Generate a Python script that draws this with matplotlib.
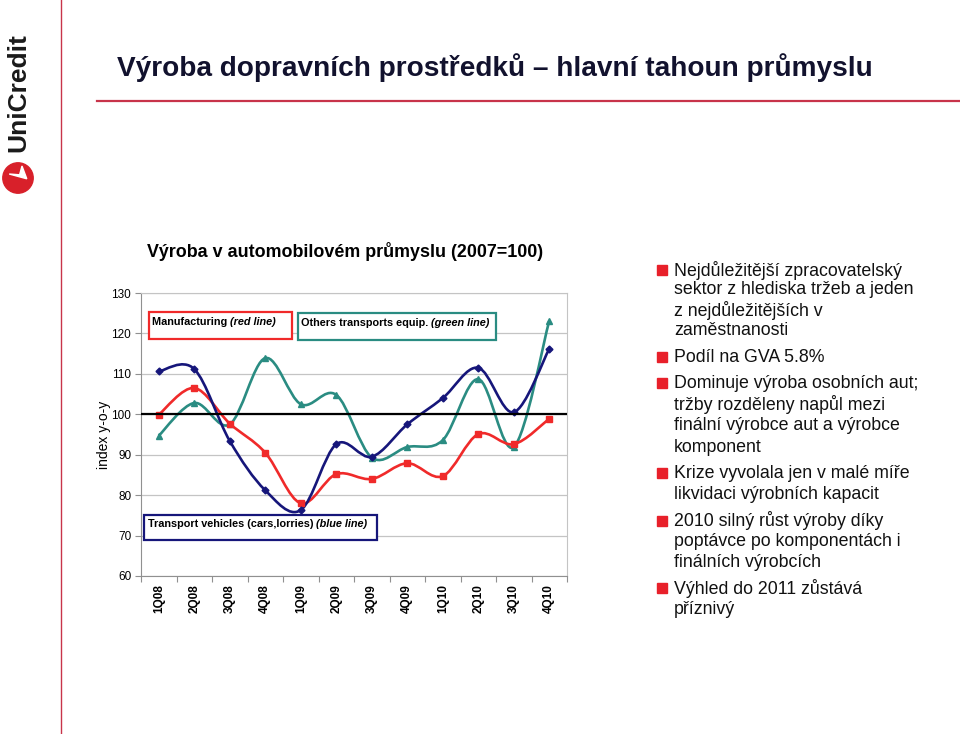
import matplotlib
matplotlib.use("Agg")
import matplotlib.pyplot as plt
from matplotlib.path import Path
from matplotlib.patches import PathPatch, Rectangle, Circle, Polygon
import numpy as np

plt.rcParams['font.family'] = ['Liberation Sans', 'DejaVu Sans']

# data (index, 2007=100)
quarters = ["1Q08", "2Q08", "3Q08", "4Q08", "1Q09", "2Q09",
            "3Q09", "4Q09", "1Q10", "2Q10", "3Q10", "4Q10"]
manufacturing = [99.9, 106.5, 97.7, 90.5, 78.0, 85.2, 84.0, 87.9, 84.7, 95.1, 92.6, 98.9]
transport_vehicles = [110.6, 111.2, 93.4, 81.2, 76.3, 92.6, 89.5, 97.5, 104.0, 111.5, 100.5, 116.2]
other_transport = [94.7, 102.8, 97.5, 113.9, 102.5, 104.8, 89.3, 91.9, 93.6, 108.7, 91.9, 123.1]

bullets = [
    ["Nejdůležitější zpracovatelský", "sektor z hlediska tržeb a jeden",
     "z nejdůležitějších v", "zaměstnanosti"],
    ["Podíl na GVA 5.8%"],
    ["Dominuje výroba osobních aut;", "tržby rozděleny napůl mezi",
     "finální výrobce aut a výrobce", "komponent"],
    ["Krize vyvolala jen v malé míře", "likvidaci výrobních kapacit"],
    ["2010 silný růst výroby díky", "poptávce po komponentách i",
     "finálních výrobcích"],
    ["Výhled do 2011 zůstává", "příznivý"],
]

RED = '#f02a2a'
NAVY = '#16167a'
TEAL = '#2a8c82'


def smooth_path(xs, ys):
    # excel-like smoothed line: bezier segments through the data points
    pts = np.column_stack([xs, ys]).astype(float)
    n = len(pts)
    verts = [pts[0]]
    codes = [Path.MOVETO]
    for i in range(n - 1):
        p0 = pts[max(i - 1, 0)]
        p1 = pts[i]
        p2 = pts[i + 1]
        p3 = pts[min(i + 2, n - 1)]
        verts += [p1 + (p2 - p0) / 6.0, p2 - (p3 - p1) / 6.0, p2]
        codes += [Path.CURVE4] * 3
    return Path(verts, codes)


fig = plt.figure(figsize=(9.6, 7.34), dpi=100)
W, H = 960.0, 734.0

# frame lines of the slide
fig.add_artist(plt.Line2D([60.5 / W, 60.5 / W], [0, 1], color='#c8344a', lw=1.0))
fig.add_artist(plt.Line2D([97 / W, 1.0], [1 - 101 / H, 1 - 101 / H], color='#c8344a', lw=1.6))

fig.text(117 / W, 1 - 68 / H, "Výroba dopravních prostředků – hlavní tahoun průmyslu",
         fontsize=20.2, fontweight='bold', color='#12122e', va='center', ha='left')

# logo
fig.text(18 / W, 1 - 93 / H, "UniCredit", rotation=90, fontsize=19, fontweight='bold',
         color='#1a1a1a', ha='center', va='center')
lax = fig.add_axes([2 / W, 1 - 194 / H, 32 / W, 32 / H])
lax.set_xlim(-1, 1)
lax.set_ylim(-1, 1)
lax.set_aspect('equal')
lax.axis('off')
lax.add_patch(Circle((0, 0), 0.95, color='#d8202a'))
lax.add_patch(Polygon([(-0.55, 0.25), (0.55, -0.05), (0.25, 0.75), (0.1, 0.2)],
                      closed=True, color='white'))

# chart
ax = fig.add_axes([141 / W, 1 - 576 / H, 426 / W, 283 / H])
x = np.arange(len(quarters))

for vals, col, mk, ms in [(other_transport, TEAL, '^', 4.5),
                          (manufacturing, RED, 's', 4),
                          (transport_vehicles, NAVY, 'D', 3.5)]:
    ax.add_patch(PathPatch(smooth_path(x, vals), facecolor='none', edgecolor=col, lw=1.9, zorder=3))
    ax.plot(x, vals, linestyle='none', marker=mk, ms=ms, color=col, zorder=4)

ax.axhline(100, color='black', lw=1.6, zorder=5)
ax.set_xlim(-0.5, 11.5)
ax.set_ylim(60, 130)
ax.set_yticks(range(60, 131, 10))
ax.yaxis.grid(True, color='#c4c4c4', lw=0.9)
ax.set_axisbelow(True)
ax.set_xticks(np.arange(-0.5, 12, 1))
ax.set_xticklabels([])
ax.set_xticks(x, minor=True)
ax.set_xticklabels(quarters, minor=True, rotation=90, fontsize=8.5, fontweight='bold')
ax.tick_params(axis='x', which='minor', length=0, pad=6)
ax.tick_params(axis='x', which='major', length=4, color='#909090')
ax.tick_params(axis='y', length=4, color='#909090', labelsize=8.5, pad=3)
for side in ['left', 'bottom']:
    ax.spines[side].set_color('#909090')
for side in ['top', 'right']:
    ax.spines[side].set_color('#c4c4c4')
ax.set_ylabel("index y-o-y", fontsize=10, labelpad=0)

ax.set_title("Výroba v automobilovém průmyslu (2007=100)", fontsize=12.9, fontweight='bold',
             pad=26, x=0.479)

# label boxes
boxes = [
    ((0.019, 0.837), 0.335, 0.096, RED, (0.026, 0.897), "Manufacturing ", "(red line)"),
    ((0.369, 0.834), 0.464, 0.095, TEAL, (0.376, 0.894), "Others transports equip. ", "(green line)"),
    ((0.007, 0.127), 0.547, 0.089, NAVY, (0.016, 0.185), "Transport vehicles (cars,lorries) ", "(blue line)"),
]
for (bx, by), bw, bh, col, (tx, ty), t1, t2 in boxes:
    ax.add_patch(Rectangle((bx, by), bw, bh, transform=ax.transAxes, facecolor='white',
                           edgecolor=col, lw=1.6, zorder=6))
    a = ax.text(tx, ty, t1, transform=ax.transAxes, fontsize=7.8,
                fontweight='bold', va='center', ha='left', zorder=7)
    ax.annotate(t2, xy=(1, 0.5), xycoords=a, va='center', ha='left', fontsize=7.8,
                fontweight='bold', style='italic', zorder=7)

# bullet text on the right
line_y = [270, 289.3, 310, 331, 357.3, 383.3, 404, 425.7, 447.3, 473.3, 494.3,
          520.7, 541.7, 562.7, 588.3, 610]
k = 0
for item in bullets:
    fig.add_artist(Rectangle((657 / W, 1 - (line_y[k] + 5) / H), 10 / W, 10 / H,
                             transform=fig.transFigure, color='#e8202a'))
    for line in item:
        fig.text(674 / W, 1 - line_y[k] / H, line, fontsize=12.8, va='center', ha='left',
                 color='#111111')
        k += 1

fig.savefig("out.png", dpi=100)
